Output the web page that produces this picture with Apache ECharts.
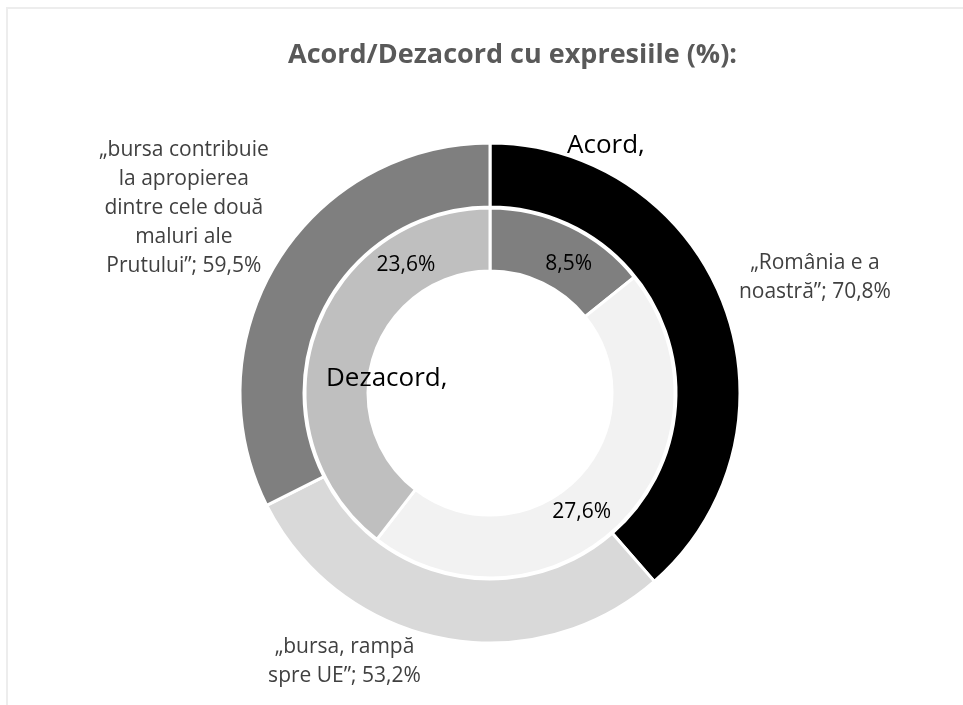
<!DOCTYPE html>
<html>
<head>
<meta charset="utf-8">
<script src="https://cdn.jsdelivr.net/npm/echarts@6/dist/echarts.min.js"></script>
<style>
html, body { margin: 0; padding: 0; background: #fff; }
#chart { width: 963px; height: 705px; }
</style>
</head>
<body>
<div id="chart"></div>
<script>
// date (randurile etichetelor rupte ca in original)
var categories = ['„România e a\nnoastră”', '„bursa, rampă\nspre UE”', '„bursa contribuie\nla apropierea\ndintre cele două\nmaluri ale\nPrutului”'];
var seriesNames = ['Acord', 'Dezacord'];
var acord = [70.8, 53.2, 59.5];
var dezacord = [8.5, 27.6, 23.6];

var acordColors = ['#000000', '#d9d9d9', '#7f7f7f'];
var dezacordColors = ['#7f7f7f', '#f2f2f2', '#bfbfbf'];

// deplasarea etichetelor (mutate manual in original)
var acordShift = [[118, -38], [-103, 52], [-118, -69]];
var dezacordShift = [[11, 12], [-20, 9], [64, -77]];

function fmt(v) {
	return v.toFixed(1).replace('.', ',') + '%';
}

var chart = echarts.init(document.getElementById('chart'));

var option = {
	backgroundColor: '#fff',
	animation: false,
	title: {
		text: 'Acord/Dezacord cu expresiile (%):',
		left: 283,
		top: 37,
		textStyle: {
			fontFamily: 'Open Sans',
			fontWeight: 'bold',
			fontSize: 27,
			color: '#595959'
		}
	},
	graphic: [
		{
			type: 'rect',
			shape: { x: 7, y: 8, width: 1000, height: 800 },
			style: { fill: 'none', stroke: '#ededed', lineWidth: 2 },
			silent: true
		},
		{
			type: 'text',
			left: 567, top: 133, z: 100,
			style: { text: seriesNames[0] + ',', font: '26px "Open Sans"', fill: '#000' }
		},
		{
			type: 'text',
			left: 326, top: 366, z: 100,
			style: { text: seriesNames[1] + ',', font: '26px "Open Sans"', fill: '#000' }
		}
	],
	series: [
		{
			name: seriesNames[0],
			type: 'pie',
			center: [490, 393],
			radius: [186, 250],
			startAngle: 90,
			clockwise: true,
			avoidLabelOverlap: false,
			itemStyle: { borderColor: '#fff', borderWidth: 3 },
			label: {
				show: true,
				position: 'inside',
				fontFamily: 'Open Sans',
				fontSize: 21,
				lineHeight: 29,
				color: '#404040',
				align: 'center',
				formatter: function (p) {
					return p.name + '; ' + fmt(p.value);
				}
			},
			labelLayout: function (p) {
				return { dx: acordShift[p.dataIndex][0], dy: acordShift[p.dataIndex][1] };
			},
			data: acord.map(function (v, i) {
				return {
					name: categories[i],
					value: v,
					itemStyle: { color: acordColors[i] }
				};
			})
		},
		{
			name: seriesNames[1],
			type: 'pie',
			center: [490, 393],
			radius: [122, 185],
			startAngle: 90,
			clockwise: true,
			avoidLabelOverlap: false,
			itemStyle: { borderColor: '#fff', borderWidth: 3 },
			label: {
				show: true,
				position: 'inside',
				fontFamily: 'Open Sans',
				fontSize: 21,
				color: '#000',
				formatter: function (p) {
					return fmt(p.value);
				}
			},
			labelLayout: function (p) {
				return { dx: dezacordShift[p.dataIndex][0], dy: dezacordShift[p.dataIndex][1] };
			},
			data: dezacord.map(function (v, i) {
				return {
					name: categories[i],
					value: v,
					itemStyle: { color: dezacordColors[i] }
				};
			})
		}
	]
};

chart.setOption(option);
</script>
</body>
</html>
